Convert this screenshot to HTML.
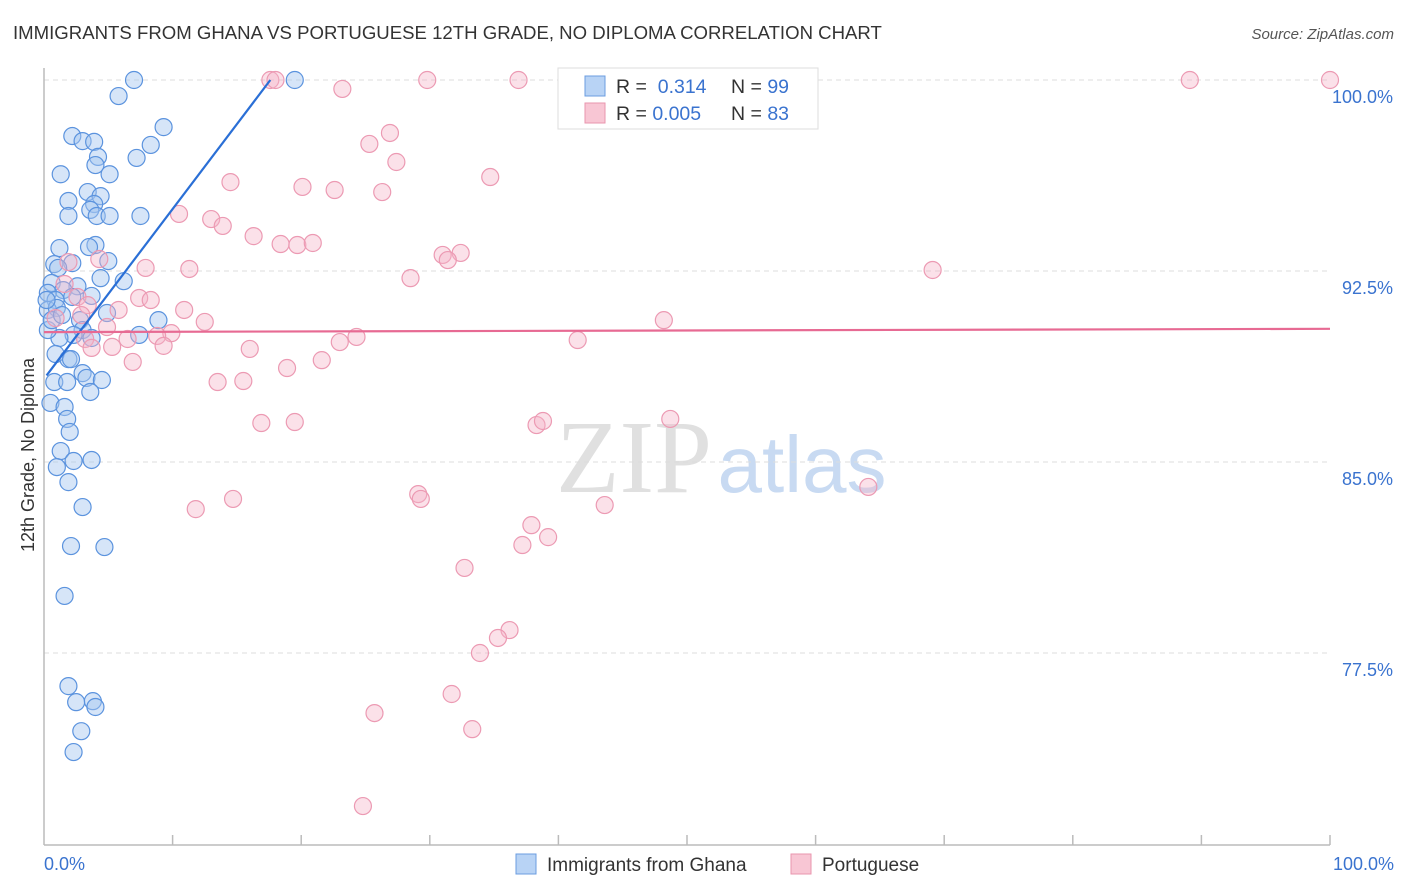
<!DOCTYPE html>
<html><head><meta charset="utf-8"><style>
body{margin:0;background:#fff;font-family:"Liberation Sans",sans-serif}
svg{display:block}
</style></head><body>
<svg id="chart" width="1406" height="892">
<text x="13" y="39" font-size="18.6" fill="#333">IMMIGRANTS FROM GHANA VS PORTUGUESE 12TH GRADE, NO DIPLOMA CORRELATION CHART</text>
<text x="1394" y="39" font-size="15" fill="#555" text-anchor="end" font-style="italic">Source: ZipAtlas.com</text>
<text x="34" y="455" font-size="18" fill="#333" text-anchor="middle" transform="rotate(-90 34 455)">12th Grade, No Diploma</text>
<g>
<text x="634" y="492" font-size="104" fill="#ddd" text-anchor="middle" font-family="Liberation Serif,serif" opacity="0.9">ZIP</text>
<text x="802" y="492" font-size="80" fill="#c8daf2" text-anchor="middle">atlas</text>
</g>
<g id="grid"></g><g id="axes"></g><g id="pts"></g><g id="trend"></g>
<g>
<rect x="558" y="68" width="260" height="61" fill="#fff" stroke="#ddd"/>
<rect x="585" y="76" width="20" height="20" fill="#b8d3f5" stroke="#6b9de0"/>
<rect x="585" y="103" width="20" height="20" fill="#f8c6d4" stroke="#e995ae"/>
<text x="616" y="93" font-size="19.5" fill="#333">R = <tspan fill="#3a73cf">&#160;0.314</tspan><tspan x="731">N = </tspan><tspan fill="#3a73cf">99</tspan></text>
<text x="616" y="120" font-size="19.5" fill="#333">R = <tspan fill="#3a73cf">0.005</tspan><tspan x="731">N = </tspan><tspan fill="#3a73cf">83</tspan></text>
</g>
<g>
<rect x="516" y="854" width="20" height="20" fill="#b8d3f5" stroke="#6b9de0"/>
<text x="547" y="871" font-size="19" fill="#333">Immigrants from Ghana</text>
<rect x="791" y="854" width="20" height="20" fill="#f8c6d4" stroke="#e995ae"/>
<text x="822" y="871" font-size="19" fill="#333">Portuguese</text>
</g>
</svg>
<script>
const yTicks=[100,92.5,85,77.5];
const yTickLabels=["100.0%","92.5%","85.0%","77.5%"];
const xTickLabels=["0.0%","100.0%"];
const ghanaX=[7.0,19.5,5.8,9.3,2.2,3.0,3.9,8.3,7.2,4.2,4.0,1.3,5.1,3.4,4.4,1.9,3.9,3.6,1.9,4.1,5.1,7.5,1.2,4.0,3.5,0.8,2.2,5.0,1.1,4.4,6.2,2.6,0.6,1.5,3.7,0.3,0.9,2.2,0.3,1.0,4.9,8.9,2.8,3.0,2.3,7.4,3.7,1.2,0.9,1.9,2.1,3.0,3.3,4.5,0.8,3.6,1.8,0.5,1.6,1.8,2.0,1.3,2.3,3.7,1.0,1.9,3.0,2.1,4.7,1.6,1.9,2.5,3.8,4.0,2.9,2.3,0.3,0.6,0.2,1.4];
const ghanaY=[100,100,99.37,98.15,97.8,97.6,97.57,97.45,96.94,96.98,96.66,96.3,96.3,95.6,95.44,95.25,95.13,94.9,94.66,94.66,94.66,94.66,93.4,93.52,93.44,92.77,92.81,92.89,92.62,92.22,92.1,91.9,92.03,91.75,91.52,91.64,91.36,91.48,90.97,91.05,90.85,90.57,90.57,90.18,89.99,89.99,89.87,89.87,89.24,89.04,89.04,88.49,88.3,88.22,88.14,87.75,88.14,87.32,87.16,86.69,86.18,85.43,85.04,85.08,84.8,84.21,83.23,81.7,81.66,79.74,76.2,75.57,75.61,75.38,74.43,73.61,90.18,90.57,91.36,90.77];
const portX=[17.6,18.0,29.8,36.9,51.3,89.1,100,23.2,26.9,25.3,27.4,34.7,14.5,20.1,22.6,26.3,10.5,13.0,13.9,16.3,18.4,19.7,20.9,31.0,32.4,31.4,69.1,1.9,4.3,7.9,11.3,28.5,1.6,2.6,7.4,8.3,3.4,5.8,10.9,2.9,12.5,4.9,48.2,0.9,9.9,8.8,3.2,3.7,6.5,9.3,23.0,24.3,41.5,5.3,16.0,21.6,6.9,18.9,13.5,15.5,16.9,19.5,38.3,38.8,48.7,29.1,29.3,14.7,11.8,43.6,64.1,37.9,39.2,37.2,32.7,36.2,35.3,33.9,31.7,25.7,33.3,24.8];
const portY=[100,100,100,100,100,100,100,99.65,97.92,97.49,96.78,96.19,95.99,95.8,95.68,95.6,94.74,94.54,94.27,93.87,93.56,93.52,93.6,93.13,93.21,92.93,92.54,92.85,92.97,92.62,92.58,92.22,91.99,91.48,91.44,91.36,91.16,90.97,90.97,90.77,90.5,90.3,90.57,90.65,90.06,89.95,89.83,89.48,89.83,89.56,89.71,89.91,89.79,89.52,89.44,89.0,88.93,88.69,88.14,88.18,86.53,86.57,86.45,86.61,86.69,83.74,83.55,83.55,83.15,83.31,84.02,82.52,82.05,81.74,80.84,78.4,78.09,77.5,75.89,75.14,74.51,71.49];
const ghanaTrendX=[0.2,17.6], ghanaTrendY=[88.4,100];
const portTrendX=[0,100], portTrendY=[90.1,90.23];
const NS="http://www.w3.org/2000/svg";
const X0=44,X1=1330;
const sx=v=>X0+(X1-X0)*v/100;
const sy=v=>80+(100-v)*191/7.5;
function mk(tag,attrs,parent){const e=document.createElementNS(NS,tag);for(const k in attrs)e.setAttribute(k,attrs[k]);document.getElementById(parent).appendChild(e);return e;}
yTicks.forEach((t,i)=>{
 const g=mk('line',{x1:44,x2:1330,y1:sy(t),y2:sy(t),stroke:'#ddd','stroke-dasharray':'5,4'},'grid');
 
 
 const l=mk('text',{x:1393,y:sy(t)+23,'font-size':18,fill:'#3a73cf','text-anchor':'end'},'grid');
 
 
 l.textContent=yTickLabels[i];
});
const ya=mk('line',{x1:44,x2:44,y1:68,y2:845,stroke:'#bbb','stroke-width':1.5},'axes');


const xa=mk('line',{x1:44,x2:1330,y1:845,y2:845,stroke:'#bbb','stroke-width':1.5},'axes');


for(let i=1;i<=10;i++){
 const t=mk('line',{x1:sx(i*10),x2:sx(i*10),y1:835,y2:845,stroke:'#bbb','stroke-width':1.5},'axes');
 
 
}
[[0,'start',44],[100,'end',1394]].forEach((a,i)=>{
 const l=mk('text',{x:a[2],y:870,'font-size':18,fill:'#3a73cf','text-anchor':a[1]},'axes');
 
 
 l.textContent=xTickLabels[i];
});
ghanaX.forEach((v,i)=>{
 const c=mk('circle',{cx:sx(v),cy:sy(ghanaY[i]),r:8.5,fill:'rgba(165,198,240,0.45)',stroke:'#5b93de','stroke-width':1.2},'pts');
 
 
});
portX.forEach((v,i)=>{
 const c=mk('circle',{cx:sx(v),cy:sy(portY[i]),r:8.5,fill:'rgba(246,180,200,0.4)',stroke:'#ec9ab3','stroke-width':1.2},'pts');
 
 
});
const t1=mk('line',{x1:sx(ghanaTrendX[0]),y1:sy(ghanaTrendY[0]),x2:sx(ghanaTrendX[1]),y2:sy(ghanaTrendY[1]),stroke:'#2a6fd6','stroke-width':2.2},'trend');


const t2=mk('line',{x1:sx(portTrendX[0]),y1:sy(portTrendY[0]),x2:sx(portTrendX[1]),y2:sy(portTrendY[1]),stroke:'#e76a93','stroke-width':2.2},'trend');


</script>
</body></html>
